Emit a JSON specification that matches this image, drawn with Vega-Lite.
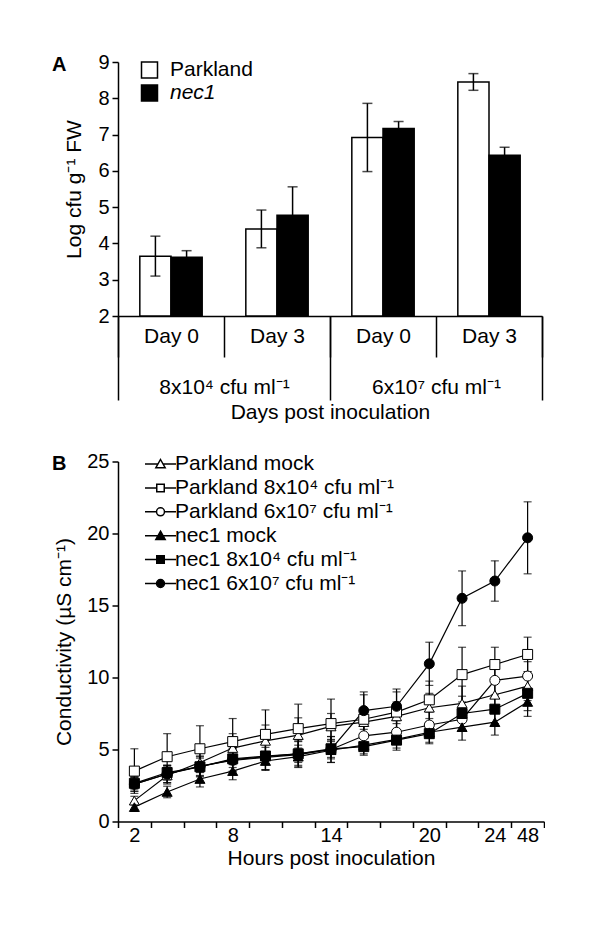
{
  "$schema": "https://vega.github.io/schema/vega-lite/v6.json",
  "padding": {"left": 52, "top": 52, "right": 0, "bottom": 0},
  "config": {
    "font": "Liberation Sans",
    "view": {"stroke": null},
    "axis": {"labelFont": "Liberation Sans", "titleFont": "Liberation Sans", "labelFontSize": 20, "titleFontSize": 21, "titleFontWeight": "normal", "labelColor": "black", "titleColor": "black", "domainColor": "black", "tickColor": "black", "domainWidth": 1.5, "tickWidth": 1.5, "grid": false, "labelPadding": 3},
    "legend": {"labelFont": "Liberation Sans", "labelColor": "black"},
    "concat": {"spacing": 28.5}
  },
  "resolve": {"scale": {"fill": "independent", "shape": "independent"}, "legend": {"fill": "independent", "shape": "independent"}},
  "vconcat": [
    {
      "width": 424,
      "height": 254,
      "title": {"text": "A", "anchor": "start", "frame": "group", "fontSize": 20, "fontWeight": "bold", "font": "Liberation Sans", "dx": -66, "dy": 22.5, "offset": 0},
      "layer": [
        {
          "data": {"values": [
            {"cat": "Day 0 a", "geno": "Parkland", "v": 3.65, "lo": 3.1, "hi": 4.2},
            {"cat": "Day 0 a", "geno": "nec1", "v": 3.62, "lo": 3.45, "hi": 3.8},
            {"cat": "Day 3 a", "geno": "Parkland", "v": 4.4, "lo": 3.88, "hi": 4.92},
            {"cat": "Day 3 a", "geno": "nec1", "v": 4.78, "lo": 4.0, "hi": 5.56},
            {"cat": "Day 0 b", "geno": "Parkland", "v": 6.92, "lo": 5.98, "hi": 7.86},
            {"cat": "Day 0 b", "geno": "nec1", "v": 7.17, "lo": 6.98, "hi": 7.36},
            {"cat": "Day 3 b", "geno": "Parkland", "v": 8.45, "lo": 8.22, "hi": 8.68},
            {"cat": "Day 3 b", "geno": "nec1", "v": 6.43, "lo": 6.22, "hi": 6.65}
          ]},
          "encoding": {
            "x": {"field": "cat", "type": "nominal", "sort": ["Day 0 a", "Day 3 a", "Day 0 b", "Day 3 b"],
              "scale": {"paddingInner": 0, "paddingOuter": 0},
              "axis": {"title": null, "labelAngle": 0, "labelFontSize": 21, "labelExpr": "substring(datum.label, 0, 5)", "tickBand": "extent", "tickSize": 41, "labelPadding": -32}},
            "xOffset": {"field": "geno", "type": "nominal", "sort": ["Parkland", "nec1"], "scale": {"paddingInner": 0, "paddingOuter": 0.7}}
          },
          "layer": [
            {
              "mark": {"type": "bar", "stroke": "black", "strokeWidth": 1.5},
              "encoding": {
                "y": {"field": "v", "type": "quantitative", "scale": {"domain": [2, 9], "nice": false, "zero": false},
                  "axis": {"values": [2, 3, 4, 5, 6, 7, 8, 9], "title": "Log cfu g⁻¹ FW", "tickSize": 6, "titlePadding": 13}},
                "y2": {"datum": 2},
                "fill": {"field": "geno", "type": "nominal", "scale": {"domain": ["Parkland", "nec1"], "range": ["white", "black"]},
                  "legend": {"orient": "none", "legendX": 21, "legendY": -2.5, "title": null, "symbolType": "square", "symbolSize": 256, "symbolStrokeColor": "black", "symbolStrokeWidth": 1.5, "labelFontSize": 21, "labelOffset": 10, "rowPadding": 0, "padding": 0,
                    "encode": {"labels": {"update": {"fontStyle": {"signal": "datum.value == 'nec1' ? 'italic' : 'normal'"}}},
                               "symbols": {"update": {"stroke": {"value": "black"}, "strokeWidth": {"value": 1.5}}}}}}
              }
            },
            {
              "mark": {"type": "rule", "color": "black", "strokeWidth": 1.5},
              "encoding": {"y": {"field": "lo", "type": "quantitative", "axis": {"values": [2, 3, 4, 5, 6, 7, 8, 9], "title": "Log cfu g⁻¹ FW", "tickSize": 6, "titlePadding": 13}}, "y2": {"field": "hi"}}
            },
            {
              "mark": {"type": "tick", "orient": "horizontal", "size": 10, "thickness": 1.5, "color": "black"},
              "encoding": {"y": {"field": "hi", "type": "quantitative", "axis": {"values": [2, 3, 4, 5, 6, 7, 8, 9], "title": "Log cfu g⁻¹ FW", "tickSize": 6, "titlePadding": 13}}}
            },
            {
              "mark": {"type": "tick", "orient": "horizontal", "size": 10, "thickness": 1.5, "color": "black"},
              "encoding": {"y": {"field": "lo", "type": "quantitative", "axis": {"values": [2, 3, 4, 5, 6, 7, 8, 9], "title": "Log cfu g⁻¹ FW", "tickSize": 6, "titlePadding": 13}}}
            }
          ]
        },
        {
          "data": {"values": [{"grp": "8x10⁴ cfu ml⁻¹"}, {"grp": "6x10⁷ cfu ml⁻¹"}]},
          "mark": {"type": "rule", "opacity": 0},
          "encoding": {
            "x": {"field": "grp", "type": "nominal", "sort": ["8x10⁴ cfu ml⁻¹", "6x10⁷ cfu ml⁻¹"],
              "scale": {"paddingInner": 0, "paddingOuter": 0},
              "axis": {"orient": "bottom", "title": "Days post inoculation", "labelAngle": 0, "labelFontSize": 21, "domain": false, "tickBand": "extent", "tickSize": 84, "labelPadding": -24, "titlePadding": 1}}
          }
        }
      ],
      "resolve": {"scale": {"x": "independent"}, "axis": {"x": "independent"}}
    },
    {
      "width": 426,
      "height": 360,
      "title": {"text": "B", "anchor": "start", "frame": "group", "fontSize": 20, "fontWeight": "bold", "font": "Liberation Sans", "dx": -66, "dy": 22, "offset": 0},
      "data": {"values": [
        {"s": "Parkland mock", "h": "2", "v": 1.45, "lo": 1.15, "hi": 1.75},
        {"s": "Parkland mock", "h": "4", "v": 3.2, "lo": 2.6, "hi": 3.8},
        {"s": "Parkland mock", "h": "6", "v": 4.1, "lo": 3.4, "hi": 4.8},
        {"s": "Parkland mock", "h": "8", "v": 5.1, "lo": 4.1, "hi": 6.1},
        {"s": "Parkland mock", "h": "10", "v": 5.6, "lo": 4.5, "hi": 6.7},
        {"s": "Parkland mock", "h": "12", "v": 6.0, "lo": 4.8, "hi": 7.2},
        {"s": "Parkland mock", "h": "14", "v": 6.6, "lo": 5.7, "hi": 7.5},
        {"s": "Parkland mock", "h": "16", "v": 6.9, "lo": 5.9, "hi": 7.9},
        {"s": "Parkland mock", "h": "18", "v": 7.3, "lo": 6.3, "hi": 8.3},
        {"s": "Parkland mock", "h": "20", "v": 7.9, "lo": 6.9, "hi": 8.9},
        {"s": "Parkland mock", "h": "22", "v": 8.2, "lo": 7.0, "hi": 9.4},
        {"s": "Parkland mock", "h": "24", "v": 8.8, "lo": 7.8, "hi": 9.8},
        {"s": "Parkland mock", "h": "48", "v": 9.4, "lo": 8.4, "hi": 10.4},
        {"s": "Parkland 6x10⁷ cfu ml⁻¹", "h": "2", "v": 2.6, "lo": 2.1, "hi": 3.1},
        {"s": "Parkland 6x10⁷ cfu ml⁻¹", "h": "4", "v": 3.3, "lo": 2.7, "hi": 3.9},
        {"s": "Parkland 6x10⁷ cfu ml⁻¹", "h": "6", "v": 3.8, "lo": 3.1, "hi": 4.5},
        {"s": "Parkland 6x10⁷ cfu ml⁻¹", "h": "8", "v": 4.3, "lo": 3.5, "hi": 5.1},
        {"s": "Parkland 6x10⁷ cfu ml⁻¹", "h": "10", "v": 4.5, "lo": 3.6, "hi": 5.4},
        {"s": "Parkland 6x10⁷ cfu ml⁻¹", "h": "12", "v": 4.7, "lo": 3.8, "hi": 5.6},
        {"s": "Parkland 6x10⁷ cfu ml⁻¹", "h": "14", "v": 5.0, "lo": 4.1, "hi": 5.9},
        {"s": "Parkland 6x10⁷ cfu ml⁻¹", "h": "16", "v": 5.95, "lo": 5.25, "hi": 6.65},
        {"s": "Parkland 6x10⁷ cfu ml⁻¹", "h": "18", "v": 6.2, "lo": 5.4, "hi": 7.0},
        {"s": "Parkland 6x10⁷ cfu ml⁻¹", "h": "20", "v": 6.7, "lo": 5.8, "hi": 7.6},
        {"s": "Parkland 6x10⁷ cfu ml⁻¹", "h": "22", "v": 7.1, "lo": 6.3, "hi": 7.9},
        {"s": "Parkland 6x10⁷ cfu ml⁻¹", "h": "24", "v": 9.8, "lo": 8.6, "hi": 11.0},
        {"s": "Parkland 6x10⁷ cfu ml⁻¹", "h": "48", "v": 10.1, "lo": 9.1, "hi": 11.1},
        {"s": "Parkland 8x10⁴ cfu ml⁻¹", "h": "2", "v": 3.5, "lo": 1.95, "hi": 5.05},
        {"s": "Parkland 8x10⁴ cfu ml⁻¹", "h": "4", "v": 4.5, "lo": 2.9, "hi": 6.1},
        {"s": "Parkland 8x10⁴ cfu ml⁻¹", "h": "6", "v": 5.05, "lo": 3.45, "hi": 6.65},
        {"s": "Parkland 8x10⁴ cfu ml⁻¹", "h": "8", "v": 5.55, "lo": 3.95, "hi": 7.15},
        {"s": "Parkland 8x10⁴ cfu ml⁻¹", "h": "10", "v": 6.05, "lo": 4.35, "hi": 7.75},
        {"s": "Parkland 8x10⁴ cfu ml⁻¹", "h": "12", "v": 6.45, "lo": 4.75, "hi": 8.15},
        {"s": "Parkland 8x10⁴ cfu ml⁻¹", "h": "14", "v": 6.8, "lo": 5.1, "hi": 8.5},
        {"s": "Parkland 8x10⁴ cfu ml⁻¹", "h": "16", "v": 7.1, "lo": 5.4, "hi": 8.8},
        {"s": "Parkland 8x10⁴ cfu ml⁻¹", "h": "18", "v": 7.6, "lo": 6.2, "hi": 9.0},
        {"s": "Parkland 8x10⁴ cfu ml⁻¹", "h": "20", "v": 8.45, "lo": 7.15, "hi": 9.75},
        {"s": "Parkland 8x10⁴ cfu ml⁻¹", "h": "22", "v": 10.2, "lo": 8.3, "hi": 12.1},
        {"s": "Parkland 8x10⁴ cfu ml⁻¹", "h": "24", "v": 10.9, "lo": 9.7, "hi": 12.1},
        {"s": "Parkland 8x10⁴ cfu ml⁻¹", "h": "48", "v": 11.6, "lo": 10.4, "hi": 12.8},
        {"s": "nec1 mock", "h": "2", "v": 1.0, "lo": 0.7, "hi": 1.3},
        {"s": "nec1 mock", "h": "4", "v": 2.05, "lo": 1.65, "hi": 2.45},
        {"s": "nec1 mock", "h": "6", "v": 2.95, "lo": 2.4, "hi": 3.5},
        {"s": "nec1 mock", "h": "8", "v": 3.5, "lo": 2.9, "hi": 4.1},
        {"s": "nec1 mock", "h": "10", "v": 4.2, "lo": 3.6, "hi": 4.8},
        {"s": "nec1 mock", "h": "12", "v": 4.5, "lo": 3.9, "hi": 5.1},
        {"s": "nec1 mock", "h": "14", "v": 4.95, "lo": 4.35, "hi": 5.55},
        {"s": "nec1 mock", "h": "16", "v": 5.3, "lo": 4.7, "hi": 5.9},
        {"s": "nec1 mock", "h": "18", "v": 5.7, "lo": 5.1, "hi": 6.3},
        {"s": "nec1 mock", "h": "20", "v": 6.2, "lo": 5.5, "hi": 6.9},
        {"s": "nec1 mock", "h": "22", "v": 6.55, "lo": 5.65, "hi": 7.45},
        {"s": "nec1 mock", "h": "24", "v": 6.9, "lo": 6.0, "hi": 7.8},
        {"s": "nec1 mock", "h": "48", "v": 8.3, "lo": 7.3, "hi": 9.3},
        {"s": "nec1 8x10⁴ cfu ml⁻¹", "h": "2", "v": 2.65, "lo": 2.25, "hi": 3.05},
        {"s": "nec1 8x10⁴ cfu ml⁻¹", "h": "4", "v": 3.4, "lo": 2.9, "hi": 3.9},
        {"s": "nec1 8x10⁴ cfu ml⁻¹", "h": "6", "v": 3.8, "lo": 3.2, "hi": 4.4},
        {"s": "nec1 8x10⁴ cfu ml⁻¹", "h": "8", "v": 4.35, "lo": 3.75, "hi": 4.95},
        {"s": "nec1 8x10⁴ cfu ml⁻¹", "h": "10", "v": 4.55, "lo": 3.95, "hi": 5.15},
        {"s": "nec1 8x10⁴ cfu ml⁻¹", "h": "12", "v": 4.7, "lo": 4.1, "hi": 5.3},
        {"s": "nec1 8x10⁴ cfu ml⁻¹", "h": "14", "v": 5.05, "lo": 4.45, "hi": 5.65},
        {"s": "nec1 8x10⁴ cfu ml⁻¹", "h": "16", "v": 5.2, "lo": 4.6, "hi": 5.8},
        {"s": "nec1 8x10⁴ cfu ml⁻¹", "h": "18", "v": 5.65, "lo": 4.95, "hi": 6.35},
        {"s": "nec1 8x10⁴ cfu ml⁻¹", "h": "20", "v": 6.1, "lo": 5.4, "hi": 6.8},
        {"s": "nec1 8x10⁴ cfu ml⁻¹", "h": "22", "v": 7.5, "lo": 6.3, "hi": 8.7},
        {"s": "nec1 8x10⁴ cfu ml⁻¹", "h": "24", "v": 7.8, "lo": 6.8, "hi": 8.8},
        {"s": "nec1 8x10⁴ cfu ml⁻¹", "h": "48", "v": 8.9, "lo": 7.7, "hi": 10.1},
        {"s": "nec1 6x10⁷ cfu ml⁻¹", "h": "2", "v": 2.6, "lo": 2.1, "hi": 3.1},
        {"s": "nec1 6x10⁷ cfu ml⁻¹", "h": "4", "v": 3.3, "lo": 2.7, "hi": 3.9},
        {"s": "nec1 6x10⁷ cfu ml⁻¹", "h": "6", "v": 3.85, "lo": 3.15, "hi": 4.55},
        {"s": "nec1 6x10⁷ cfu ml⁻¹", "h": "8", "v": 4.25, "lo": 3.45, "hi": 5.05},
        {"s": "nec1 6x10⁷ cfu ml⁻¹", "h": "10", "v": 4.45, "lo": 3.55, "hi": 5.35},
        {"s": "nec1 6x10⁷ cfu ml⁻¹", "h": "12", "v": 4.65, "lo": 3.75, "hi": 5.55},
        {"s": "nec1 6x10⁷ cfu ml⁻¹", "h": "14", "v": 5.0, "lo": 4.1, "hi": 5.9},
        {"s": "nec1 6x10⁷ cfu ml⁻¹", "h": "16", "v": 7.7, "lo": 6.4, "hi": 9.0},
        {"s": "nec1 6x10⁷ cfu ml⁻¹", "h": "18", "v": 8.0, "lo": 6.8, "hi": 9.2},
        {"s": "nec1 6x10⁷ cfu ml⁻¹", "h": "20", "v": 10.95, "lo": 9.45, "hi": 12.45},
        {"s": "nec1 6x10⁷ cfu ml⁻¹", "h": "22", "v": 15.5, "lo": 13.6, "hi": 17.4},
        {"s": "nec1 6x10⁷ cfu ml⁻¹", "h": "24", "v": 16.7, "lo": 15.3, "hi": 18.1},
        {"s": "nec1 6x10⁷ cfu ml⁻¹", "h": "48", "v": 19.7, "lo": 17.2, "hi": 22.2}
      ]},
      "encoding": {
        "x": {"field": "h", "type": "ordinal", "sort": ["2", "4", "6", "8", "10", "12", "14", "16", "18", "20", "22", "24", "48"],
          "scale": {"type": "band", "paddingInner": 0, "paddingOuter": 0},
          "axis": {"title": "Hours post inoculation", "labelAngle": 0, "tickBand": "extent", "tickSize": 6, "labelPadding": -2, "titlePadding": 2,
            "labelExpr": "indexof(['2','8','14','20','24','48'], datum.label) >= 0 ? datum.label : ''"}}
      },
      "layer": [
        {
          "mark": {"type": "rule", "color": "black", "strokeWidth": 1.2},
          "encoding": {
            "y": {"field": "lo", "type": "quantitative", "scale": {"domain": [0, 25], "nice": false},
              "axis": {"values": [0, 5, 10, 15, 20, 25], "title": "Conductivity (µS cm⁻¹)", "tickSize": 6, "titlePadding": 12}},
            "y2": {"field": "hi"}
          }
        },
        {
          "mark": {"type": "tick", "orient": "horizontal", "size": 8, "thickness": 1.2, "color": "black"},
          "encoding": {"y": {"field": "hi", "type": "quantitative"}}
        },
        {
          "mark": {"type": "tick", "orient": "horizontal", "size": 8, "thickness": 1.2, "color": "black"},
          "encoding": {"y": {"field": "lo", "type": "quantitative"}}
        },
        {
          "mark": {"type": "line", "color": "black", "strokeWidth": 1.2},
          "encoding": {"y": {"field": "v", "type": "quantitative"}, "detail": {"field": "s"}}
        },
        {
          "mark": {"type": "point", "filled": true, "stroke": "black", "strokeWidth": 1, "size": 100, "opacity": 1},
          "encoding": {
            "y": {"field": "v", "type": "quantitative"},
            "shape": {"field": "s", "type": "nominal",
              "scale": {"domain": ["Parkland mock", "Parkland 8x10⁴ cfu ml⁻¹", "Parkland 6x10⁷ cfu ml⁻¹", "nec1 mock", "nec1 8x10⁴ cfu ml⁻¹", "nec1 6x10⁷ cfu ml⁻¹"],
                "range": ["triangle-up", "square", "circle", "triangle-up", "square", "circle"]},
              "legend": null},
            "fill": {"field": "s", "type": "nominal",
              "scale": {"domain": ["Parkland mock", "Parkland 8x10⁴ cfu ml⁻¹", "Parkland 6x10⁷ cfu ml⁻¹", "nec1 mock", "nec1 8x10⁴ cfu ml⁻¹", "nec1 6x10⁷ cfu ml⁻¹"],
                "range": ["white", "white", "white", "black", "black", "black"]},
              "legend": null}
          }
        },
        {
          "transform": [{"filter": "false"}],
          "mark": {"type": "point", "filled": true, "stroke": "black", "strokeWidth": 1.2, "size": 225, "opacity": 1},
          "encoding": {
            "y": {"field": "v", "type": "quantitative"},
            "shape": {"field": "s", "type": "nominal",
              "scale": {"domain": ["Parkland mock", "Parkland 8x10⁴ cfu ml⁻¹", "Parkland 6x10⁷ cfu ml⁻¹", "nec1 mock", "nec1 8x10⁴ cfu ml⁻¹", "nec1 6x10⁷ cfu ml⁻¹"],
                "range": [
                  "M-2.07,0H-0.34M0.34,0H2.07M0,-0.6L0.62,0.5L-0.62,0.5Z",
                  "M-2.07,0H-0.5M0.5,0H2.07M-0.5,-0.5H0.5V0.5H-0.5Z",
                  "M-2.07,0H-0.53M0.53,0H2.07M0.53,0C0.53,0.293,0.293,0.53,0,0.53C-0.293,0.53,-0.53,0.293,-0.53,0C-0.53,-0.293,-0.293,-0.53,0,-0.53C0.293,-0.53,0.53,-0.293,0.53,0Z",
                  "M-2.07,0H-0.34M0.34,0H2.07M0,-0.6L0.62,0.5L-0.62,0.5Z",
                  "M-2.07,0H-0.5M0.5,0H2.07M-0.5,-0.5H0.5V0.5H-0.5Z",
                  "M-2.07,0H-0.53M0.53,0H2.07M0.53,0C0.53,0.293,0.293,0.53,0,0.53C-0.293,0.53,-0.53,0.293,-0.53,0C-0.53,-0.293,-0.293,-0.53,0,-0.53C0.293,-0.53,0.53,-0.293,0.53,0Z"
                ]},
              "legend": {"orient": "none", "legendX": 32, "legendY": -8, "title": null, "symbolSize": 225, "labelFontSize": 21, "labelOffset": 4, "rowPadding": 1.9, "padding": 0, "labelLimit": 400,
                "encode": {"symbols": {"update": {"stroke": {"value": "black"}, "strokeWidth": {"value": 1.2}}}}}},
            "fill": {"field": "s", "type": "nominal",
              "scale": {"domain": ["Parkland mock", "Parkland 8x10⁴ cfu ml⁻¹", "Parkland 6x10⁷ cfu ml⁻¹", "nec1 mock", "nec1 8x10⁴ cfu ml⁻¹", "nec1 6x10⁷ cfu ml⁻¹"],
                "range": ["white", "white", "white", "black", "black", "black"]},
              "legend": {"orient": "none", "legendX": 32, "legendY": -8, "title": null, "symbolSize": 225, "labelFontSize": 21, "labelOffset": 4, "rowPadding": 1.9, "padding": 0, "labelLimit": 400,
                "encode": {"symbols": {"update": {"stroke": {"value": "black"}, "strokeWidth": {"value": 1.2}}}}}}
          }
        }
      ],
      "resolve": {"scale": {"shape": "independent", "fill": "independent"}, "legend": {"shape": "independent", "fill": "independent"}}
    }
  ]
}
